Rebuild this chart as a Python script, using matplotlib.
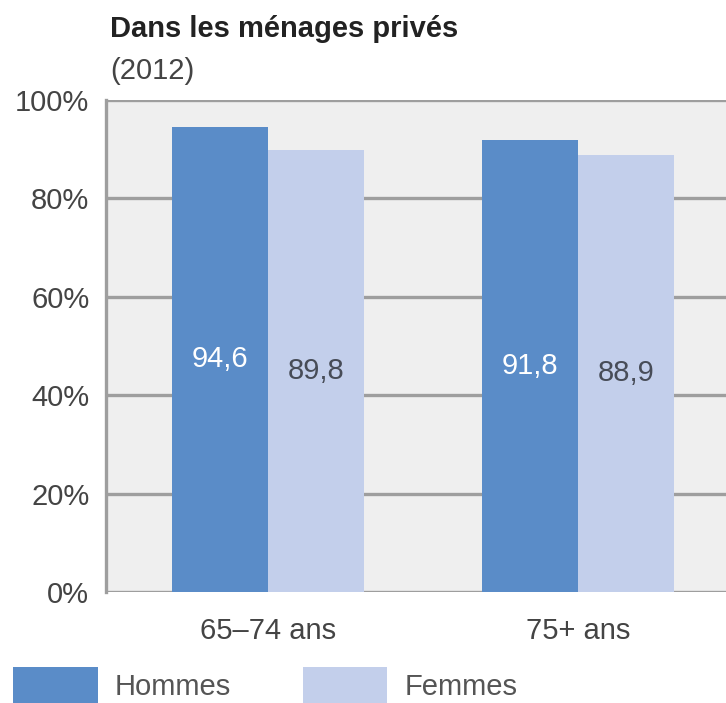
import matplotlib
matplotlib.use("Agg")
import matplotlib.pyplot as plt
import numpy as np

plt.rcParams['font.family'] = ['Liberation Sans', 'DejaVu Sans']

categories = ["65\u201374 ans", "75+ ans"]
series_names = ["Hommes", "Femmes"]
hommes = [94.6, 91.8]
femmes = [89.8, 88.9]
yticks = [0, 20, 40, 60, 80, 100]
ytick_labels = ["0%", "20%", "40%", "60%", "80%", "100%"]

col_h = "#5a8cc8"
col_f = "#c3cfeb"
grid_col = "#9e9e9e"
txt_col = "#444444"
fs = 21

fig = plt.figure(figsize=(7.26, 7.03), dpi=100)
ax = fig.add_axes([106 / 726, 1 - 592 / 703, 1 - 106 / 726, (592 - 100) / 703])
ax.set_facecolor("#efefef")

x = np.arange(len(categories))
w = 0.31
bh = ax.bar(x - w / 2, hommes, w, color=col_h, zorder=3, label=series_names[0])
bf = ax.bar(x + w / 2, femmes, w, color=col_f, zorder=3, label=series_names[1])

for b, v in zip(bh, hommes):
    ax.text(b.get_x() + b.get_width() / 2, v / 2, f"{v:.1f}".replace(".", ","),
            ha="center", va="center", color="white", fontsize=fs, zorder=4)
for b, v in zip(bf, femmes):
    ax.text(b.get_x() + b.get_width() / 2, v / 2, f"{v:.1f}".replace(".", ","),
            ha="center", va="center", color="#474c57", fontsize=fs, zorder=4)

ax.set_ylim(0, 100)
ax.set_xlim(-0.523, 1.477)
for yv in yticks:
    ax.axhline(yv, color=grid_col, lw=2.4, zorder=1)
ax.set_yticks(yticks)
ax.set_yticklabels(ytick_labels, fontsize=fs, color=txt_col)
ax.set_xticks(x)
ax.set_xticklabels(categories, fontsize=fs, color=txt_col)
ax.tick_params(axis="both", length=0)
ax.tick_params(axis="y", pad=12)
ax.tick_params(axis="x", pad=18)
for s in ["top", "right", "bottom"]:
    ax.spines[s].set_visible(False)
ax.spines["left"].set_color(grid_col)
ax.spines["left"].set_linewidth(2.4)
ax.spines["left"].set_zorder(2)

fig.text(110 / 726, 1 - 29 / 703, "Dans les ménages privés", fontsize=fs,
         fontweight="bold", color="#222222", ha="left", va="center")
fig.text(110 / 726, 1 - 71 / 703, "(2012)", fontsize=fs, color=txt_col,
         ha="left", va="center")

fig.legend(handles=[bh, bf], labels=series_names, loc="lower left",
           bbox_to_anchor=(13 / 726, 0.0), ncol=2, frameon=False,
           fontsize=fs, handlelength=2.9, handleheight=1.5,
           handletextpad=0.6, columnspacing=2.45, borderpad=0,
           borderaxespad=0, labelcolor="#555555")

fig.savefig("out.png", dpi=100)
